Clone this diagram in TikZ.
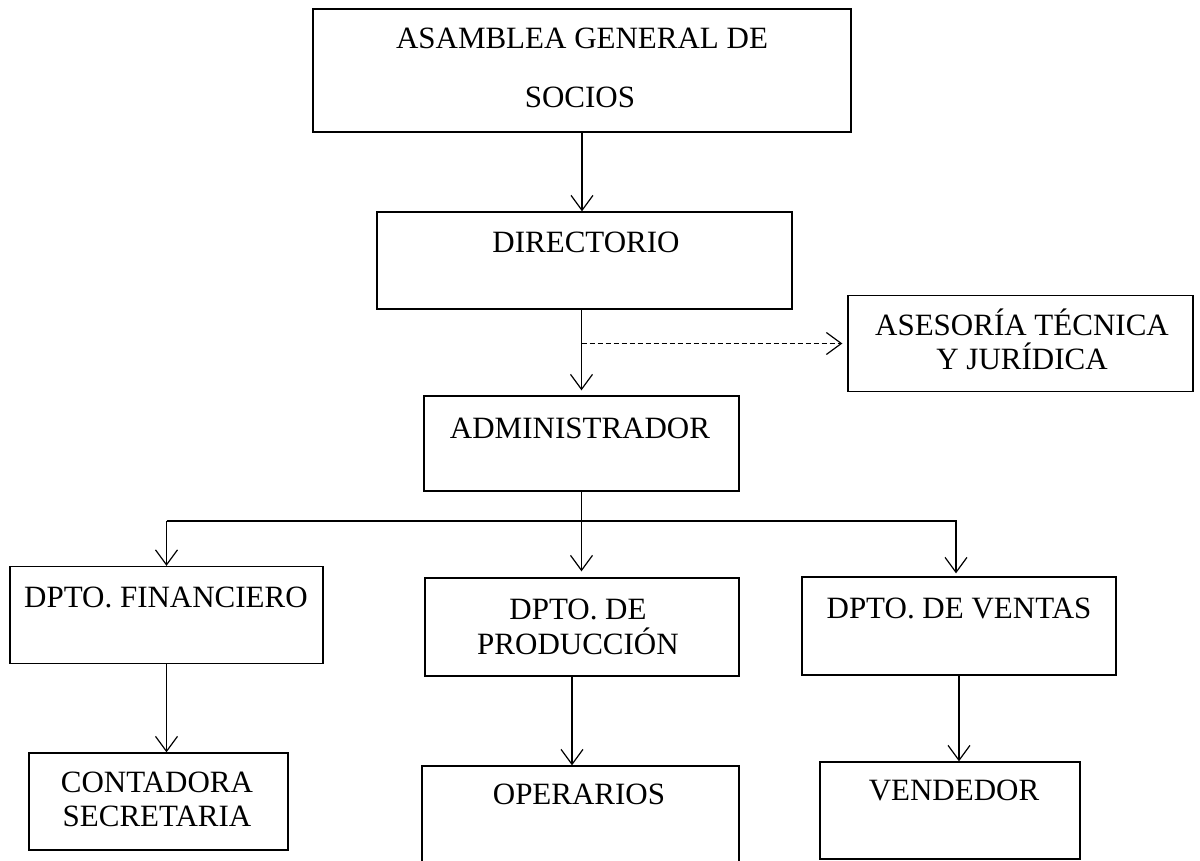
\documentclass[tikz,border=0pt]{standalone}
\usepackage{fontspec}
\setmainfont{Liberation Serif}
\usetikzlibrary{arrows.meta}
\tikzset{
  box/.style={draw, line width=1.3pt, inner sep=0pt, rectangle},
  txt/.style={anchor=base, inner sep=0pt, font=\fontsize{31}{35}\selectfont},
  arr/.style={line width=1.2pt, -{Straight Barb[length=15pt,width=22pt,line width=1.2pt]}},
  ln/.style={line width=1.2pt}
}
\begin{document}
\begin{tikzpicture}[x=1pt,y=-1pt]
\useasboundingbox (0,0) rectangle (1200,861);
\clip (0,0) rectangle (1200,861);
\fill[white] (0,0) rectangle (1200,861);
% boxes
\node[box, minimum width=538pt, minimum height=123pt] (asam) at (582,70.5) {};
\node[box, minimum width=415pt, minimum height=97pt] (dir) at (584.5,260.5) {};
\node[box, minimum width=345pt, minimum height=96pt] (ases) at (1020.5,343.5) {};
\node[box, minimum width=315pt, minimum height=95pt] (adm) at (581.5,443.5) {};
\node[box, minimum width=313pt, minimum height=97pt] (fin) at (166.5,615) {};
\node[box, minimum width=314pt, minimum height=98pt] (prod) at (582,627) {};
\node[box, minimum width=314pt, minimum height=98pt] (vent) at (959,626) {};
\node[box, minimum width=259pt, minimum height=97pt] (cont) at (158.5,801.5) {};
\node[box, minimum width=317pt, minimum height=130pt] (oper) at (580.5,831) {};
\node[box, minimum width=260pt, minimum height=97pt] (vend) at (950,810.5) {};
% texts
\node[txt] (asam1) at (582,49) {ASAMBLEA GENERAL DE};
\node[txt] (asam2) at (580,108) {SOCIOS};
\node[txt] (dir1) at (586,253) {DIRECTORIO};
\node[txt] (ases1) at (1022,335) {ASESORÍA TÉCNICA};
\node[txt] (ases2) at (1022,369) {Y JURÍDICA};
\node[txt] (adm1) at (580,438) {ADMINISTRADOR};
\node[txt] (fin1) at (166,607) {DPTO. FINANCIERO};
\node[txt] (prod1) at (578,619) {DPTO. DE};
\node[txt] (prod2) at (578,654) {PRODUCCIÓN};
\node[txt] (vent1) at (959,618) {DPTO. DE VENTAS};
\node[txt] (cont1) at (157,792) {CONTADORA};
\node[txt] (cont2) at (157,826) {SECRETARIA};
\node[txt] (oper1) at (579,804) {OPERARIOS};
\node[txt] (vend1) at (954,800) {VENDEDOR};
% connectors
\coordinate (bus) at (582,521);
\draw[arr] (asam.south) -- (asam.south |- dir.north);
\draw[arr, shorten >=5pt] (adm.north |- dir.south) -- (adm.north);
\draw[arr, dashed, dash pattern=on 5pt off 3pt, shorten >=5pt] (ases.west -| adm.north) -- (ases.west);
\draw[arr, shorten >=6pt] (adm.south) -- (adm.south |- prod.north);
\draw[ln] (fin.north |- bus) -- ([xshift=-2pt]vent.north |- bus);
\draw[arr] (fin.north |- bus) -- (fin.north);
\draw[arr, shorten >=3pt] ([xshift=-3pt]vent.north |- bus) -- ([xshift=-3pt]vent.north);
\draw[arr] (fin.south) -- (fin.south |- cont.north);
\coordinate (po) at (572,676);
\draw[arr] (po) -- (po |- oper.north);
\draw[arr] (vent.south) -- (vent.south |- vend.north);
\end{tikzpicture}
\end{document}
